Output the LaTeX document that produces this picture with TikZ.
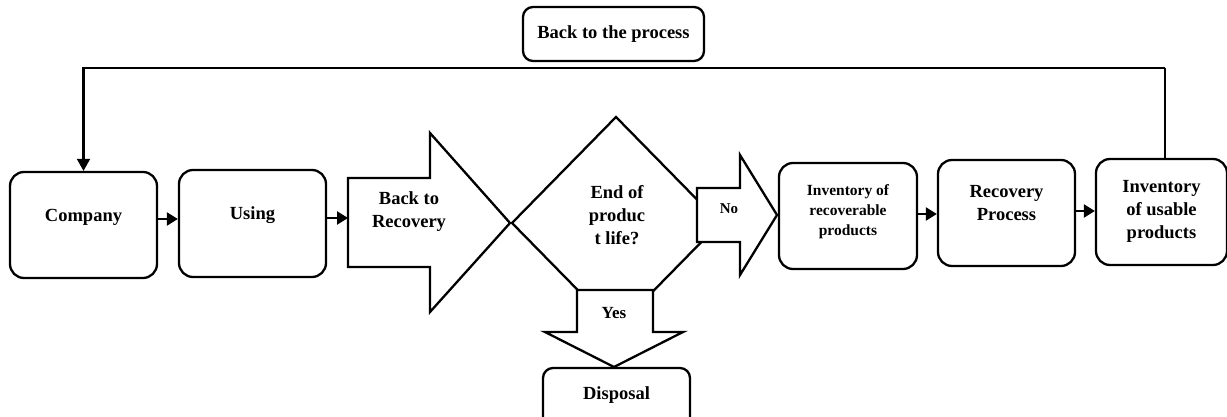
\documentclass[tikz,border=0pt]{standalone}
\usepackage{fontspec}
\setmainfont{Liberation Serif}
\usetikzlibrary{arrows.meta}
\begin{document}
\begin{tikzpicture}[x=1pt,y=-1pt,
  box/.style={draw=black,line width=2.3pt,rounded corners=14pt,fill=white,inner sep=0pt},
  lbl/.style={align=center,inner sep=0pt,font=\fontsize{18.5}{23}\selectfont\bfseries},
  small/.style={lbl,font=\fontsize{15.5}{20}\selectfont\bfseries},
  blk/.style={draw=black,line width=2.3pt,fill=white,line join=miter},
  conn/.style={line width=2.3pt,-{Triangle[length=11pt,width=13pt]}},
  fb/.style={line width=2.1pt}]
\path[fill=white] (0,0) rectangle (1227,417);
\clip (0,0) rectangle (1227,417);
% boxes
\node[box,minimum width=147pt,minimum height=106pt,label={[lbl,yshift=8pt]center:Company}] (company) at (83.5,225) {};
\node[box,minimum width=147pt,minimum height=107pt,label={[lbl,yshift=8.5pt]center:Using}] (using) at (252.5,223.5) {};
\node[box,minimum width=138pt,minimum height=106pt,label={[small,yshift=4pt]center:Inventory of\\recoverable\\products}] (recov) at (848,216) {};
\node[box,minimum width=137pt,minimum height=106pt,label={[lbl,yshift=9.5pt]center:Recovery\\Process}] (process) at (1006.5,213) {};
\node[box,minimum width=131pt,minimum height=106pt,label={[lbl,yshift=1pt]center:Inventory\\of usable\\products}] (usable) at (1161.5,212) {};
\node[box,minimum width=181pt,minimum height=54pt,rounded corners=10pt,label={[lbl,yshift=0pt]center:Back to the process}] (backproc) at (613.5,34) {};
\node[box,minimum width=147pt,minimum height=60pt,rounded corners=10pt,label={[lbl,yshift=3pt]center:Disposal}] (disposal) at (616.5,398) {};
% block arrow: Back to Recovery
\draw[blk] (348,178) -- (430,178) -- (430,133) -- (510,223) -- (430,312) -- (430,267) -- (348,267) -- cycle;
\node[lbl] (backrec) at (409,212) {Back to\\Recovery};
% decision diamond
\draw[blk] (616,117) -- (720,223) -- (616,329) -- (512,223) -- cycle;
\node[lbl] (endlife) at (617,215) {End of\\produc\\t life?};
% block arrow: No
\draw[blk] (697,188) -- (740,188) -- (740,155) -- (777,215) -- (740,275) -- (740,242) -- (697,242) -- cycle;
\node[lbl,font=\fontsize{15}{18}\selectfont\bfseries] (no) at (729,209) {No};
% block arrow: Yes
\draw[blk] (577,290) -- (653,290) -- (653,332) -- (683,332) -- (614,367) -- (545,332) -- (577,332) -- cycle;
\node[lbl,font=\fontsize{17}{20}\selectfont\bfseries] (yes) at (614,313) {Yes};
% connectors
\draw[conn] (company.east |- 0,219) -- (using.west |- 0,219);
\draw[conn] (using.east |- 0,218) -- (348,218);
\draw[conn] (recov.east |- 0,214) -- (process.west |- 0,214);
\draw[conn] (process.east |- 0,211) -- (usable.west |- 0,211);
\coordinate (topright) at (1165,68);
\draw[fb] ([xshift=3.5pt]usable.north) -- (topright);
\draw[fb,-{Triangle[length=12pt,width=13pt]}] (topright) -- (company.north |- topright) -- (company.north);
\end{tikzpicture}
\end{document}
